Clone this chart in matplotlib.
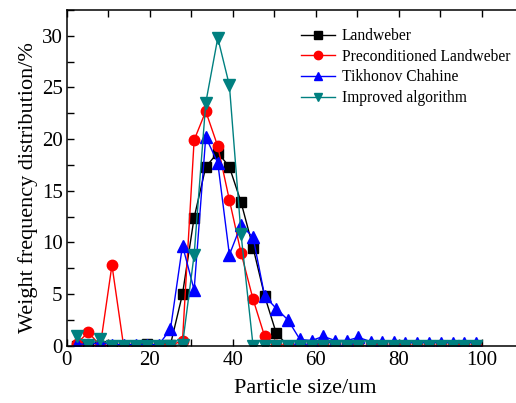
import matplotlib
matplotlib.use("Agg")
import matplotlib.pyplot as plt
from matplotlib.ticker import MultipleLocator

plt.rcParams['font.family'] = ['Liberation Serif', 'DejaVu Serif']
plt.rcParams['mathtext.fontset'] = 'stix'

sizes = [2.4, 5.2, 8.1, 10.9, 13.7, 16.6, 19.4, 22.2, 25.0, 27.9, 30.7, 33.5,
         36.4, 39.2, 42.0, 44.9, 47.7, 50.5, 53.3, 56.2, 59.0, 61.8, 64.7, 67.5,
         70.3, 73.2, 76.0, 78.8, 81.6, 84.5, 87.3, 90.1, 93.0, 95.8, 98.6]

landweber = [0.0, 0.0, 0.0, 0.0, 0.0, 0.0, 0.2, 0.0, 0.1, 5.0, 12.4, 17.3,
             18.7, 17.3, 13.9, 9.5, 4.8, 1.2, 0.0, 0.0, 0.0, 0.0, 0.0, 0.0,
             0.0, 0.0, 0.0, 0.0, 0.0, 0.0, 0.0, 0.0, 0.0, 0.0, 0.0]
precond = [0.2, 1.3, 0.0, 7.8, 0.0, 0.0, 0.0, 0.0, 0.0, 0.5, 19.9, 22.7,
           19.3, 14.1, 9.0, 4.5, 0.9, 0.1, 0.0, 0.0, 0.0, 0.0, 0.0, 0.0,
           0.0, 0.0, 0.0, 0.0, 0.0, 0.0, 0.0, 0.0, 0.0, 0.0, 0.0]
tikhonov = [0.2, 0.1, 0.3, 0.1, 0.1, 0.1, 0.1, 0.1, 1.6, 9.7, 5.4, 20.2,
            17.7, 8.8, 11.7, 10.5, 4.8, 3.6, 2.5, 0.6, 0.5, 0.9, 0.5, 0.5,
            0.8, 0.4, 0.4, 0.4, 0.3, 0.3, 0.3, 0.3, 0.3, 0.3, 0.3]
improved = [0.9, 0.1, 0.6, 0.0, 0.0, 0.0, 0.0, 0.0, 0.0, 0.1, 8.8, 23.5,
            29.8, 25.2, 10.8, 0.0, 0.0, 0.0, 0.0, 0.0, 0.0, 0.0, 0.0, 0.0,
            0.0, 0.0, 0.0, 0.0, 0.0, 0.0, 0.0, 0.0, 0.0, 0.0, 0.0]

labels = ["Landweber", "Preconditioned Landweber", "Tikhonov Chahine", "Improved algorithm"]

fig = plt.figure(figsize=(5.16, 4.03), dpi=100)
ax = fig.add_axes([0.1293, 0.1422, 0.8847, 0.833])

ax.plot(sizes, landweber, color='black', marker='s', markersize=6.5, lw=1, label=labels[0])
ax.plot(sizes, precond, color='#ff0000', marker='o', markersize=7.5, lw=1, label=labels[1])
ax.plot(sizes, tikhonov, color='#0000ff', marker='^', markersize=8, lw=1, label=labels[2])
ax.plot(sizes, improved, color='#008080', marker='v', markersize=8, lw=1, label=labels[3])

ax.set_xlim(0, 110)
ax.set_ylim(0, 32.5)
ax.xaxis.set_major_locator(MultipleLocator(20))
ax.xaxis.set_minor_locator(MultipleLocator(10))
ax.yaxis.set_major_locator(MultipleLocator(5))
ax.yaxis.set_minor_locator(MultipleLocator(2.5))
ax.tick_params(which='both', direction='in', top=True, right=False, labelsize=15, width=1)
ax.tick_params(which='both', length=5)
ax.tick_params(axis='x', which='major', pad=4)
ax.tick_params(axis='y', which='major', pad=3)
for s in ax.spines.values():
    s.set_linewidth(1.1)
ax.spines['right'].set_visible(False)

ax.set_xlabel("Particle size/um", fontsize=16, labelpad=6)
ax.set_ylabel("Weight frequency distribution/%", fontsize=16, labelpad=3)
ax.xaxis.label.set_x(0.522)
ax.yaxis.label.set_y(0.47)

leg = ax.legend(loc='upper left', bbox_to_anchor=(0.5, 0.965), frameon=False, fontsize=11.2,
                handlelength=2.2, handletextpad=0.4, labelspacing=0.3, borderaxespad=0,
                markerscale=0.8)

fig.savefig("out.png", dpi=100)
